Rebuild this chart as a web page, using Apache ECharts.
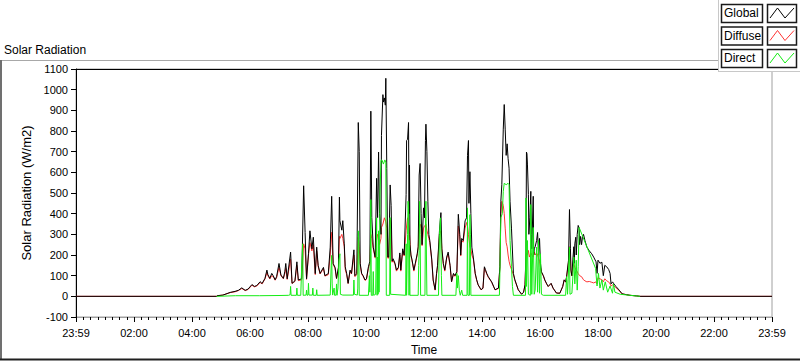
<!DOCTYPE html>
<html>
<head>
<meta charset="utf-8">
<script src="https://cdn.jsdelivr.net/npm/echarts@6/dist/echarts.min.js"></script>
<style>
html,body{margin:0;padding:0;background:#fff;}
#chart{width:800px;height:361px;}
</style>
</head>
<body>
<div id="chart"></div>
<script>
// Time in minutes after midnight, values in W/m2
var xTickLabels = ['23:59','02:00','04:00','06:00','08:00','10:00','12:00','14:00','16:00','18:00','20:00','22:00','23:59'];
var yTicks = [-100,0,100,200,300,400,500,600,700,800,900,1000,1100];
var seriesNames = ['Global','Diffuse','Direct'];

var globalData = [[0,0],[291,0],[292,3],[304,6],[319,19],[329,24],[336,29],[343,41],[350,29],[356,35],[364,57],[369,48],[374,52],[381,71],[385,62],[391,87],[395,127],[397,105],[401,87],[405,111],[408,100],[412,80],[415,95],[420,159],[424,103],[429,87],[432,119],[434,159],[437,85],[444,214],[447,63],[453,75],[457,167],[460,79],[467,85],[471,535],[474,309],[477,85],[481,206],[484,317],[488,230],[491,286],[495,110],[498,238],[501,150],[505,111],[512,140],[515,100],[522,110],[526,238],[529,484],[532,159],[536,140],[539,87],[543,140],[545,480],[546,366],[550,320],[552,366],[555,254],[557,143],[560,111],[563,63],[567,127],[570,111],[575,225],[577,100],[581,110],[584,841],[586,700],[588,160],[591,111],[594,100],[598,79],[601,85],[605,143],[608,170],[610,896],[612,381],[615,238],[619,190],[622,571],[624,381],[626,698],[628,400],[631,300],[632,778],[635,976],[636,940],[638,960],[640,925],[641,1055],[643,619],[645,190],[647,190],[650,539],[652,440],[654,170],[656,182],[660,160],[663,127],[667,140],[670,210],[672,127],[676,230],[679,200],[683,492],[684,754],[686,760],[688,841],[689,400],[690,635],[691,250],[693,200],[695,180],[699,127],[702,160],[706,206],[708,240],[710,587],[712,643],[714,400],[716,250],[719,428],[721,380],[723,754],[724,833],[726,700],[728,460],[730,300],[732,270],[736,180],[739,79],[743,32],[746,111],[748,150],[752,317],[755,405],[757,230],[760,159],[763,127],[767,190],[770,214],[774,150],[777,71],[781,111],[784,100],[788,120],[791,397],[794,300],[796,200],[798,280],[801,270],[805,365],[808,380],[810,682],[812,754],[813,450],[815,603],[817,400],[819,238],[822,190],[826,111],[829,80],[832,56],[838,32],[842,40],[845,143],[847,130],[850,110],[853,95],[860,70],[867,32],[874,40],[877,143],[879,460],[881,540],[884,809],[886,928],[888,809],[890,682],[892,738],[894,666],[896,620],[898,460],[901,330],[905,111],[908,80],[915,32],[922,10],[926,20],[929,56],[931,206],[932,698],[933,690],[934,640],[936,492],[937,300],[939,380],[941,508],[942,300],[943,230],[946,484],[947,200],[948,230],[950,240],[953,270],[955,309],[957,200],[959,280],[961,160],[963,119],[967,100],[970,79],[974,60],[977,48],[983,63],[987,40],[994,16],[1001,15],[1007,48],[1010,80],[1013,70],[1015,95],[1019,175],[1021,420],[1023,230],[1024,127],[1026,100],[1028,180],[1030,240],[1031,160],[1032,254],[1034,286],[1035,200],[1037,300],[1039,343],[1041,330],[1042,250],[1044,290],[1046,250],[1048,290],[1050,300],[1053,270],[1057,238],[1062,220],[1067,206],[1071,190],[1076,167],[1078,111],[1080,175],[1084,160],[1088,165],[1091,100],[1094,150],[1098,143],[1102,130],[1105,111],[1107,60],[1110,70],[1113,60],[1117,48],[1122,35],[1130,12],[1139,8],[1146,5],[1160,2],[1167,0],[1440,0]];

var diffuseData = [[0,0],[291,0],[292,3],[304,6],[319,18],[329,22],[336,28],[343,38],[350,28],[356,33],[364,54],[369,46],[374,50],[381,67],[385,60],[391,84],[395,115],[397,100],[401,84],[405,100],[408,95],[412,78],[415,90],[420,140],[424,100],[429,85],[432,110],[434,135],[437,82],[444,180],[447,62],[453,72],[457,150],[460,76],[467,80],[471,254],[474,230],[477,82],[481,200],[484,260],[488,220],[491,250],[495,105],[498,220],[501,145],[505,108],[512,135],[515,98],[522,105],[526,200],[529,310],[532,155],[536,135],[539,85],[543,135],[545,290],[546,280],[550,300],[552,280],[555,240],[557,130],[560,105],[563,62],[567,120],[570,108],[575,200],[577,95],[581,105],[584,285],[586,240],[588,150],[591,108],[594,97],[598,77],[601,82],[605,135],[608,160],[610,300],[612,280],[615,230],[619,185],[622,270],[624,300],[626,290],[628,250],[631,280],[632,333],[635,350],[638,380],[641,360],[643,330],[645,185],[647,185],[650,370],[652,350],[654,165],[656,175],[660,155],[663,122],[667,135],[670,200],[672,122],[676,220],[679,195],[683,320],[686,380],[688,350],[690,300],[693,195],[695,175],[699,122],[702,155],[706,200],[708,235],[710,340],[712,350],[714,330],[716,245],[719,330],[721,340],[723,345],[724,349],[726,320],[728,300],[730,280],[732,260],[736,175],[739,77],[743,30],[746,108],[748,145],[752,300],[755,317],[757,225],[760,155],[763,122],[767,185],[770,205],[774,145],[777,70],[781,108],[784,97],[788,115],[791,340],[794,290],[796,195],[798,270],[801,262],[805,330],[808,357],[810,340],[812,300],[815,238],[817,230],[819,200],[822,180],[826,108],[829,78],[832,55],[838,32],[842,38],[845,138],[847,125],[850,107],[853,92],[860,68],[867,31],[874,38],[877,138],[879,400],[881,460],[884,440],[886,400],[888,330],[890,260],[892,240],[894,200],[896,170],[898,150],[901,130],[905,105],[908,78],[915,31],[922,10],[926,19],[929,54],[931,190],[932,210],[934,200],[936,222],[938,190],[941,210],[943,200],[946,190],[948,215],[950,200],[953,210],[955,200],[957,185],[959,170],[961,140],[963,115],[967,98],[970,77],[974,58],[977,47],[983,62],[987,39],[994,16],[1001,15],[1007,46],[1010,78],[1013,68],[1015,92],[1019,165],[1021,240],[1023,200],[1024,120],[1026,98],[1028,150],[1030,160],[1032,140],[1034,130],[1037,120],[1039,110],[1042,100],[1046,95],[1050,80],[1053,75],[1057,70],[1062,72],[1067,68],[1071,65],[1076,70],[1078,60],[1080,90],[1084,85],[1088,80],[1091,70],[1094,85],[1098,75],[1102,70],[1105,60],[1107,50],[1110,55],[1113,50],[1117,42],[1122,32],[1130,12],[1139,8],[1146,5],[1160,2],[1167,0],[1440,0]];

var directData = [[291,0],[330,3],[380,3],[420,4],[440,5],[443,8],[444,48],[445,5],[456,5],[457,40],[458,5],[465,5],[467,150],[469,254],[470,5],[476,6],[477,30],[478,5],[480,6],[481,63],[482,6],[489,6],[490,40],[491,5],[497,5],[498,32],[499,5],[526,6],[528,150],[529,198],[530,60],[531,6],[534,40],[535,5],[538,6],[539,60],[540,5],[542,40],[544,175],[546,206],[547,10],[552,6],[574,6],[575,79],[576,10],[582,6],[583,40],[584,317],[585,280],[586,5],[605,5],[607,100],[608,20],[609,200],[610,468],[611,5],[614,5],[615,120],[616,5],[620,10],[622,380],[623,5],[624,190],[625,10],[626,317],[627,20],[628,200],[629,500],[631,658],[633,660],[636,640],[639,660],[641,650],[642,5],[649,5],[650,381],[651,10],[682,5],[683,254],[684,5],[686,300],[687,460],[688,420],[689,5],[690,270],[691,5],[708,5],[709,150],[710,222],[711,460],[712,300],[713,5],[722,5],[723,350],[724,460],[725,200],[726,5],[750,5],[752,300],[754,380],[756,100],[757,5],[786,5],[788,111],[789,40],[791,100],[793,30],[795,5],[798,30],[800,5],[809,5],[810,428],[811,5],[814,5],[815,395],[816,300],[817,5],[876,5],[877,111],[879,381],[882,400],[884,508],[886,547],[890,540],[894,547],[896,540],[898,270],[901,143],[903,48],[905,5],[930,5],[931,476],[932,48],[934,270],[936,10],[940,5],[941,444],[943,10],[946,333],[948,10],[950,30],[953,238],[955,20],[957,270],[959,15],[961,206],[963,10],[967,5],[1013,5],[1015,95],[1017,10],[1021,238],[1022,10],[1026,15],[1028,95],[1030,190],[1032,60],[1035,175],[1037,30],[1039,143],[1041,333],[1075,135],[1078,50],[1081,111],[1084,40],[1088,80],[1091,30],[1095,70],[1100,20],[1105,50],[1110,15],[1112,60],[1115,20],[1126,10],[1146,5],[1167,0]];

var colors = {Global:'#000000', Diffuse:'#ff3434', Direct:'#14ec14'};
var FONT = 'Liberation Sans, Arial, sans-serif';

var chart = echarts.init(document.getElementById('chart'), null, {renderer:'svg'});

function legendRow(name, top) {
  var zig = [[770, top+14],[777.5, top+4],[785, top+14],[794, top+4]];
  return [
    {type:'rect', shape:{x:721.5, y:top+0.5, width:41, height:18}, style:{fill:'#fff', stroke:'#1a1a1a', lineWidth:1.5}, z:101},
    {type:'text', left:724, top:top+3, style:{text:name, font:'12px '+FONT, fill:'#000'}, z:102},
    {type:'rect', shape:{x:767.5, y:top+0.5, width:29, height:18}, style:{fill:'#fff', stroke:'#1a1a1a', lineWidth:1.5}, z:101},
    {type:'polyline', shape:{points:zig}, style:{stroke:colors[name], lineWidth:1, fill:null}, z:102}
  ];
}

var graphics = [
  {type:'text', left:4, top:44, style:{text:'Solar Radiation', font:'12px '+FONT, fill:'#000'}, z:50},
  {type:'line', shape:{x1:0, y1:60.5, x2:718, y2:60.5}, style:{stroke:'#a8a8a8', lineWidth:1}, z:50},
  {type:'line', shape:{x1:1, y1:60, x2:1, y2:360}, style:{stroke:'#707070', lineWidth:2}, z:50},
  {type:'line', shape:{x1:0, y1:359.5, x2:800, y2:359.5}, style:{stroke:'#202020', lineWidth:2}, z:50},
  {type:'rect', shape:{x:718, y:0, width:82, height:72}, style:{fill:'#ffffff', stroke:null}, z:100},
  {type:'line', shape:{x1:718.5, y1:0, x2:718.5, y2:72}, style:{stroke:'#c8c8c8', lineWidth:1}, z:100},
  {type:'line', shape:{x1:718, y1:71.5, x2:800, y2:71.5}, style:{stroke:'#c8c8c8', lineWidth:1}, z:100}
];
seriesNames.forEach(function(n, i){ graphics = graphics.concat(legendRow(n, 4 + i*22.5)); });

function mkSeries(name, data) {
  return {
    name:name, type:'line', data:data, showSymbol:false, symbol:'none',
    xAxisIndex:0, yAxisIndex:0,
    lineStyle:{color:colors[name], width:1}, itemStyle:{color:colors[name]},
    animation:false, sampling:null, smooth:false
  };
}

var option = {
  animation:false,
  backgroundColor:'#ffffff',
  grid:{left:76, top:69, right:28, bottom:39, show:true, borderColor:'#a0a0a0', borderWidth:1, backgroundColor:'#fff'},
  xAxis:[{
    type:'value', min:0, max:1440, interval:120,
    name:'Time', nameLocation:'middle', nameGap:27,
    nameTextStyle:{color:'#000', fontSize:12, fontFamily:FONT},
    axisLine:{show:true, onZero:false, lineStyle:{color:'#a0a0a0', width:1}},
    axisTick:{show:true, length:5, lineStyle:{color:'#000'}},
    minorTick:{show:true, splitNumber:8, length:3, lineStyle:{color:'#000'}},
    axisLabel:{color:'#000', fontSize:11, fontFamily:FONT, margin:10,
      formatter:function(v){ return xTickLabels[Math.round(v/120)]; }},
    splitLine:{show:false}
  },{
    type:'value', min:0, max:1440, position:'top',
    axisLine:{show:true, onZero:false, lineStyle:{color:'#000', width:1}},
    axisTick:{show:false}, axisLabel:{show:false}, splitLine:{show:false}
  }],
  yAxis:[{
    type:'value', min:yTicks[0], max:yTicks[yTicks.length-1], interval:100,
    name:'Solar Radiation (W/m2)', nameLocation:'middle', nameGap:35, nameRotate:90,
    nameTextStyle:{color:'#000', fontSize:13, fontFamily:FONT},
    axisLine:{show:true, onZero:false, lineStyle:{color:'#000', width:1}},
    axisTick:{show:true, length:5, lineStyle:{color:'#000'}},
    axisLabel:{color:'#000', fontSize:11, fontFamily:FONT, margin:8,
      formatter:function(v){ return String(v); }},
    splitLine:{show:false}
  }],
  legend:{show:false, data:seriesNames},
  graphic:graphics,
  series:[
    mkSeries('Diffuse', diffuseData),
    mkSeries('Global', globalData),
    mkSeries('Direct', directData)
  ]
};
chart.setOption(option);
</script>
</body>
</html>
